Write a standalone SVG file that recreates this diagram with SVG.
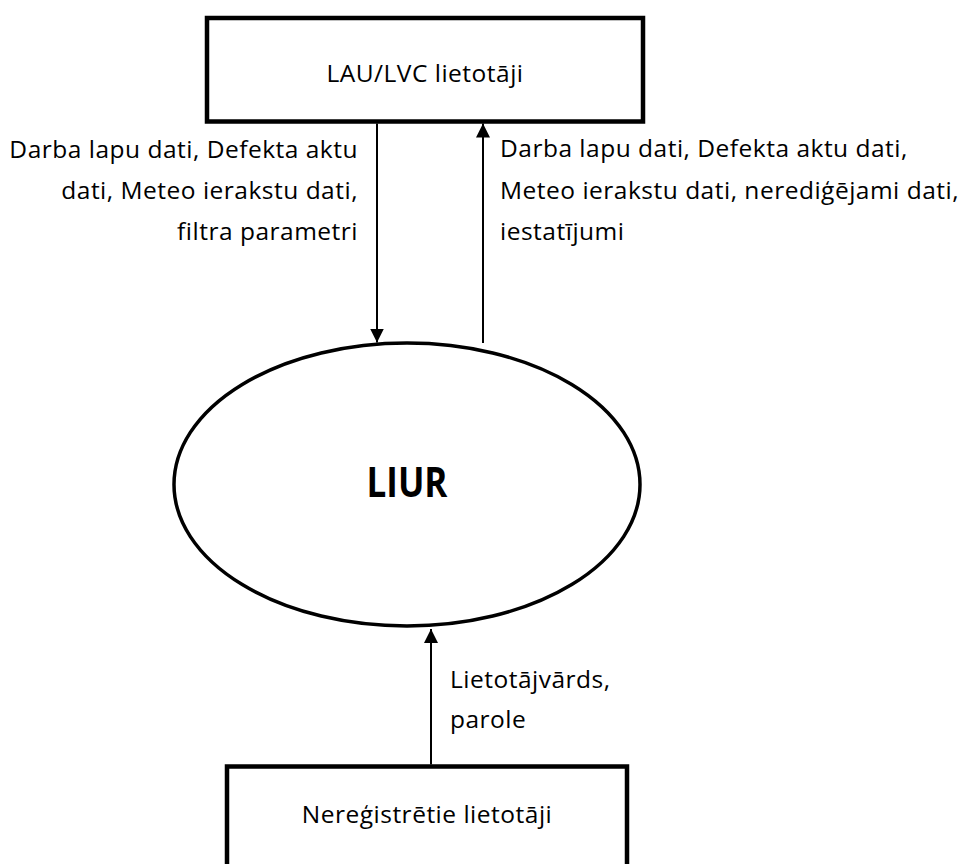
<svg xmlns="http://www.w3.org/2000/svg" width="967" height="864" viewBox="0 0 967 864">
<style>
.box{fill:#fff;stroke:#000;stroke-width:4.5}
.ell{fill:#fff;stroke:#000;stroke-width:3.5}
.t{font-family:"Open Sans","Liberation Sans",sans-serif;font-size:24.5px;letter-spacing:0.5px;fill:#000}
.b{font-family:"Open Sans","Liberation Sans",sans-serif;font-size:42px;font-weight:bold;fill:#000}
.c{stroke:#000;stroke-width:2;fill:none}
</style>
<defs>
<marker id="ah" markerWidth="15" markerHeight="14" refX="14" refY="7" orient="auto" markerUnits="userSpaceOnUse">
<path d="M0,0 L14,7 L0,14 Z" fill="#000"/>
</marker>
</defs>
<g id="lau">
<rect class="box" x="207" y="18" width="436" height="103.5"/>
<text class="t" x="425" y="82" text-anchor="middle">LAU/LVC lietotāji</text>
</g>
<g id="liur">
<ellipse class="ell" cx="407" cy="484.5" rx="233" ry="141.5"/>
<text class="b" x="366.5" y="497" textLength="81" lengthAdjust="spacingAndGlyphs">LIUR</text>
</g>
<g id="nereg">
<rect class="box" x="227" y="766.5" width="400" height="120"/>
<text class="t" x="427" y="823" text-anchor="middle">Nereģistrētie lietotāji</text>
</g>
<g id="connectors">
<line class="c" x1="377" y1="123.5" x2="377" y2="342.5" marker-end="url(#ah)"/>
<line class="c" x1="483" y1="343" x2="483" y2="123.5" marker-end="url(#ah)"/>
<line class="c" x1="431" y1="764.5" x2="431" y2="629" marker-end="url(#ah)"/>
</g>
<g id="labels">
<text class="t" text-anchor="end"><tspan x="358" y="158">Darba lapu dati, Defekta aktu</tspan><tspan x="358" y="199">dati, Meteo ierakstu dati,</tspan><tspan x="358" y="240">filtra parametri</tspan></text>
<text class="t"><tspan x="500" y="157">Darba lapu dati, Defekta aktu dati,</tspan><tspan x="500" y="199">Meteo ierakstu dati, nerediģējami dati,</tspan><tspan x="500" y="240">iestatījumi</tspan></text>
<text class="t"><tspan x="450" y="688">Lietotājvārds,</tspan><tspan x="450" y="728">parole</tspan></text>
</g>
</svg>
